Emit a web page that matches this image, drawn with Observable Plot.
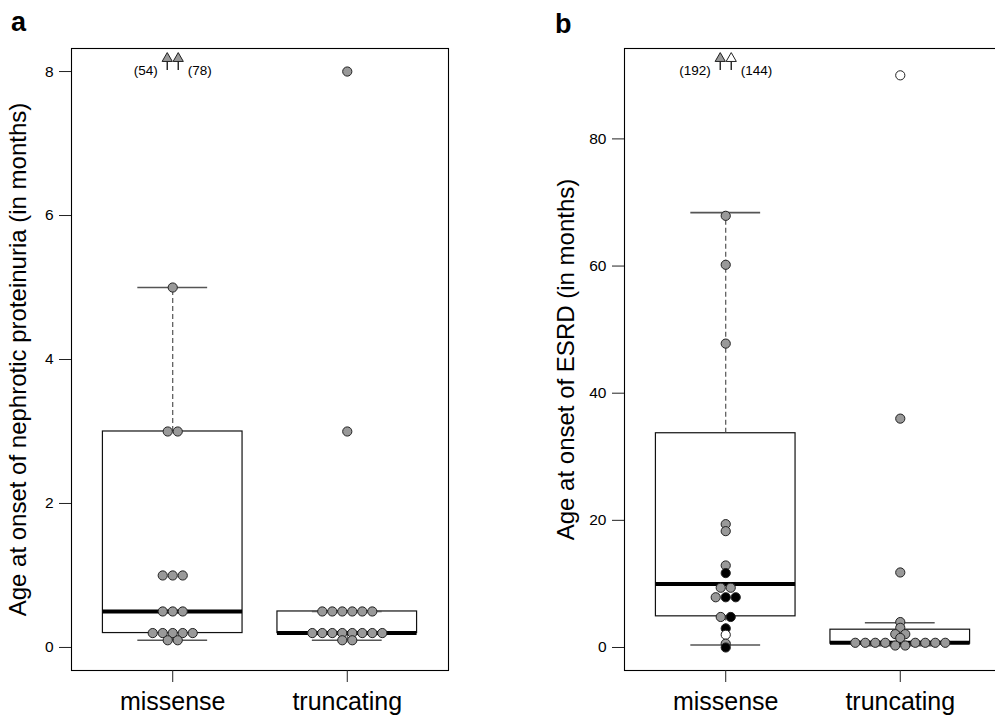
<!DOCTYPE html>
<html><head><meta charset="utf-8">
<script src="https://cdn.jsdelivr.net/npm/d3@7"></script>
<script src="https://cdn.jsdelivr.net/npm/@observablehq/plot@0.6"></script>
<style>
body{margin:0;background:#fff;}
#wrap{position:relative;width:995px;height:722px;overflow:hidden;font-family:"Liberation Sans",Arial,sans-serif;background:#fff;}
.panel{position:absolute;top:0;}
.panel svg{max-width:none !important;}
.tag{position:absolute;font-weight:bold;font-size:27px;line-height:27px;font-family:"Liberation Sans",Arial,sans-serif;}
</style></head><body>
<div id="wrap">
<div id="pa" class="panel" style="left:0px;width:520px"></div>
<div id="pb" class="panel" style="left:520px;width:481px"></div>
<div class="tag" style="left:11px;top:9px">a</div>
<div class="tag" style="left:555px;top:11px">b</div>
</div>
<script>
// ---------- data ----------
const categories = ["missense", "truncating"];

// panel a: age at onset of nephrotic proteinuria (months)
const aTitle = "Age at onset of nephrotic proteinuria (in months)";
const aTicks = [0, 2, 4, 6, 8];
const aMissense = [5, 3, 3, 1, 1, 1, 0.5, 0.5, 0.5, 0.2, 0.2, 0.2, 0.2, 0.2, 0.1, 0.1];
const aMissenseFill = aMissense.map(() => "grey");
const aTruncating = [8, 3, 0.5, 0.5, 0.5, 0.5, 0.5, 0.5, 0.2, 0.2, 0.2, 0.2, 0.2, 0.2, 0.2, 0.2, 0.1, 0.1];
const aTruncatingFill = aTruncating.map(() => "grey");
const aOffscale = [54, 78];            // missense values above the axis
const aOffscaleFill = ["grey", "grey"];
const aLo  = [0.1, 0.1];
const aQ1  = [0.2, 0.2];
const aMed = [0.5, 0.2];
const aQ3  = [3.0, 0.5];
const aHi  = [5.0, 0.5];

// panel b: age at onset of ESRD (months)
const bTitle = "Age at onset of ESRD (in months)";
const bTicks = [0, 20, 40, 60, 80];
const bMissense = [67.9, 60.2, 47.8, 19.4, 18.3, 12.9, 11.7, 9.4, 9.4, 7.9, 7.9, 7.9, 4.8, 4.8, 3.0, 2.0, 0.6, 0.0];
const bMissenseFill = ["grey","grey","grey","grey","grey","grey","black","grey","grey","black","grey","black","grey","black","black","white","grey","black"];
const bTruncating = [90, 36, 11.8, 4.0, 3.1, 2.1, 2.1, 1.5, 0.74, 0.74, 0.74, 0.74, 0.74, 0.74, 0.74, 0.74, 0.31, 0.31];
const bTruncatingFill = ["white","grey","grey","grey","grey","grey","grey","grey","grey","grey","grey","grey","grey","grey","grey","grey","grey","grey"];
const bOffscale = [192, 144];
const bOffscaleFill = ["grey", "white"];
const bLo  = [0.4, 0.3];
const bQ1  = [4.9, 0.6];
const bMed = [10.0, 0.74];
const bQ3  = [33.7, 2.8];
const bHi  = [68.4, 3.9];

// ---------- drawing ----------
const FILL = {grey: "#999999", black: "#000000", white: "#ffffff"};
const FONT = "'Liberation Sans', Arial, Helvetica, sans-serif";
const H = 722, MT = 48, MB = 52;
const XDOM = [0.42, 2.58];
const PLOTW = 377;
const SPACING = 10;

function swarm(vals, fills, g, yScale, pxPerX) {
  const pts = vals.map((v, i) => ({v, fill: FILL[fills[i]], i, py: yScale(v)}));
  const sorted = [...pts].sort((a, b) => a.py - b.py || a.i - b.i);
  const rows = [];
  for (const p of sorted) {
    const r = rows[rows.length - 1];
    if (r && Math.abs(p.py - r[0].py) <= 3) r.push(p); else rows.push([p]);
  }
  for (const r of rows) {
    const n = r.length;
    const slots = d3.range(n).map(k => (k - (n - 1) / 2) * SPACING)
      .sort((a, b) => Math.abs(a) - Math.abs(b) || a - b);
    const order = [...r].sort((a, b) => a.v - b.v || a.i - b.i);
    order.forEach((p, k) => p.x = g + slots[k] / pxPerX);
  }
  return pts;
}

function panel(cfg) {
  const {width, marginLeft, marginRight, ydomain, ticks, title, titleDx,
         groups, off, offFill, lo, q1, med, q3, hi} = cfg;
  const pxPerX = PLOTW / (XDOM[1] - XDOM[0]);
  const yScale = d3.scaleLinear(ydomain, [H - MB, MT]);
  let pts = [];
  groups.forEach(([vals, fills], gi) => { pts = pts.concat(swarm(vals, fills, gi + 1, yScale, pxPerX)); });
  const boxes = categories.map((c, i) => ({g: i + 1, lo: lo[i], q1: q1[i], med: med[i], q3: q3[i], hi: hi[i]}));
  const arrows = off.map((v, i) => ({v, fill: FILL[offFill[i]], side: i === 0 ? -1 : 1}));
  const triY = yScale.invert(MT + 10);
  const stemTop = yScale.invert(MT + 12);
  const stemBot = yScale.invert(MT + 22);
  const labY = yScale.invert(MT + 22.5);
  const ax = d => 1 + d.side * 5.5 / pxPerX;
  const lx = d => 1 + d.side * 15 / pxPerX;

  return Plot.plot({
    width, height: H, marginTop: MT, marginBottom: MB, marginLeft, marginRight,
    style: {fontFamily: FONT, background: "white", color: "black", overflow: "visible", maxWidth: "none"},
    x: {type: "linear", domain: XDOM, axis: null},
    y: {domain: ydomain, axis: null},
    color: {type: "identity"},
    marks: [
      Plot.rect(boxes, {x1: d => d.g - 0.4, x2: d => d.g + 0.4, y1: "q1", y2: "q3", fill: "white", stroke: "#111", strokeWidth: 1.2}),
      Plot.ruleX(boxes, {x: "g", y1: "q3", y2: "hi", stroke: "#444", strokeWidth: 1.1, strokeDasharray: "5,3"}),
      Plot.ruleX(boxes, {x: "g", y1: "lo", y2: "q1", stroke: "#444", strokeWidth: 1.1, strokeDasharray: "5,3"}),
      Plot.ruleY(boxes, {y: "hi", x1: d => d.g - 0.2, x2: d => d.g + 0.2, stroke: "#555", strokeWidth: 1.6}),
      Plot.ruleY(boxes, {y: "lo", x1: d => d.g - 0.2, x2: d => d.g + 0.2, stroke: "#555", strokeWidth: 1.6}),
      Plot.ruleY(boxes, {y: "med", x1: d => d.g - 0.4, x2: d => d.g + 0.4, stroke: "black", strokeWidth: 4}),
      Plot.dot(pts, {x: "x", y: "v", r: 4.6, fill: "fill", stroke: "#222", strokeWidth: 1}),
      Plot.ruleX(arrows, {x: ax, y1: stemBot, y2: stemTop, stroke: "#111", strokeWidth: 1.3}),
      Plot.dot(arrows, {x: ax, y: triY, symbol: "triangle", r: 3.8, fill: "fill", stroke: "#222", strokeWidth: 1}),
      Plot.text(arrows.filter(d => d.side < 0), {x: lx, y: labY, text: d => `(${d.v})`, textAnchor: "end", fontSize: 13.5}),
      Plot.text(arrows.filter(d => d.side > 0), {x: lx, y: labY, text: d => `(${d.v})`, textAnchor: "start", fontSize: 13.5}),
      Plot.frame({stroke: "black", strokeWidth: 1.1}),
      Plot.axisY({ticks, tickSize: 12, tickPadding: 6, fontSize: 15.5, label: null, stroke: "#222"}),
      Plot.axisX({ticks: [1, 2], tickFormat: t => categories[t - 1], tickSize: 12, tickPadding: 10, fontSize: 25, label: null, stroke: "#222"}),
      Plot.text([title], {frameAnchor: "left", textAnchor: "middle", rotate: -90, dx: titleDx, fontSize: 24})
    ]
  });
}

document.getElementById("pa").appendChild(panel({
  width: 520, marginLeft: 71, marginRight: 72, ydomain: [-0.32, 8.32], ticks: aTicks,
  title: aTitle, titleDx: -53,
  groups: [[aMissense, aMissenseFill], [aTruncating, aTruncatingFill]],
  off: aOffscale, offFill: aOffscaleFill, lo: aLo, q1: aQ1, med: aMed, q3: aQ3, hi: aHi
}));
document.getElementById("pb").appendChild(panel({
  width: 481, marginLeft: 104, marginRight: 0, ydomain: [-3.62, 94.22], ticks: bTicks,
  title: bTitle, titleDx: -58,
  groups: [[bMissense, bMissenseFill], [bTruncating, bTruncatingFill]],
  off: bOffscale, offFill: bOffscaleFill, lo: bLo, q1: bQ1, med: bMed, q3: bQ3, hi: bHi
}));
</script>
</body></html>
